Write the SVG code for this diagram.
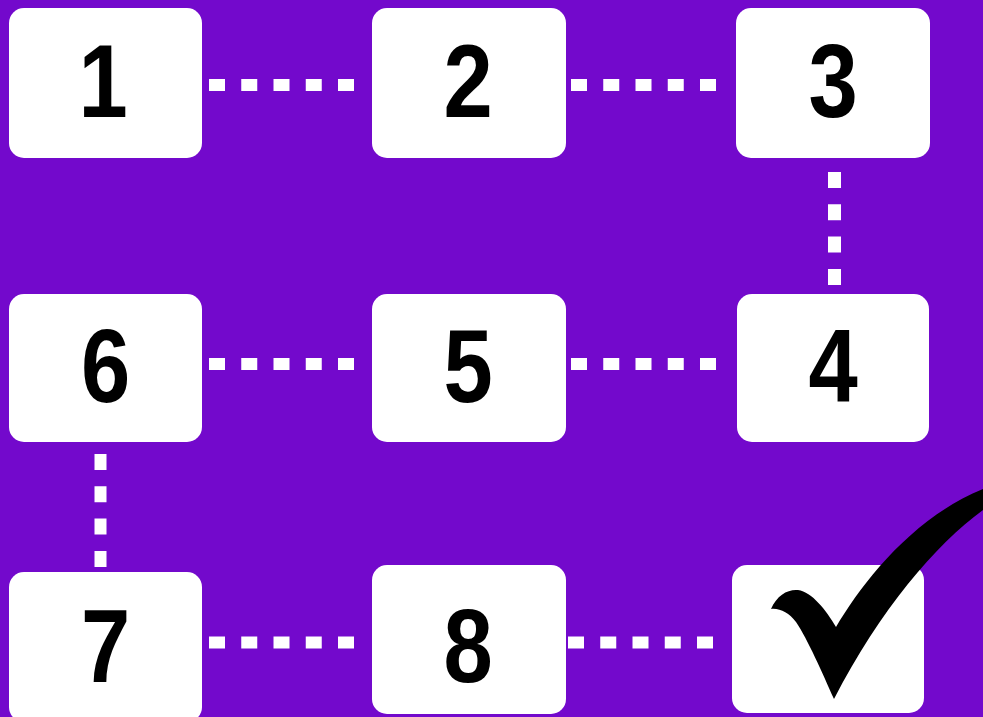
<svg xmlns="http://www.w3.org/2000/svg" width="983" height="717" viewBox="0 0 983 717">
<style>
.box{fill:#ffffff}
.num{font-family:"Liberation Sans",Arial,sans-serif;font-weight:bold;font-size:103px;fill:#000000;text-anchor:middle}
.dash{stroke:#ffffff;fill:none}
.h{stroke-width:12;stroke-dasharray:16 16.25}
.v{stroke-width:13;stroke-dasharray:16 16.3}
</style>
<rect x="0" y="0" width="983" height="717" fill="#7309CC"/>
<g id="connectors">
<line class="dash h" x1="209" y1="85" x2="354" y2="85"/>
<line class="dash h" x1="571" y1="85" x2="716" y2="85"/>
<line class="dash v" x1="834.5" y1="172" x2="834.5" y2="285"/>
<line class="dash h" x1="209" y1="364" x2="354" y2="364"/>
<line class="dash h" x1="571" y1="364" x2="716" y2="364"/>
<line class="dash v" x1="100.5" y1="454" x2="100.5" y2="567" style="stroke-width:12"/>
<line class="dash h" x1="209" y1="642.5" x2="354" y2="642.5"/>
<line class="dash h" x1="568" y1="642.5" x2="713" y2="642.5"/>
</g>
<g id="node1"><rect class="box" x="9" y="8" width="193" height="150" rx="15"/><text class="num" transform="translate(103,117) scale(0.86,1)">1</text></g>
<g id="node2"><rect class="box" x="372" y="8" width="194" height="150" rx="15"/><text class="num" transform="translate(468,117) scale(0.86,1)">2</text></g>
<g id="node3"><rect class="box" x="736" y="8" width="194" height="150" rx="15"/><text class="num" transform="translate(833,117) scale(0.86,1)">3</text></g>
<g id="node4"><rect class="box" x="737" y="294" width="192" height="148" rx="15"/><text class="num" transform="translate(833,402) scale(0.86,1)">4</text></g>
<g id="node5"><rect class="box" x="372" y="294" width="194" height="148" rx="15"/><text class="num" transform="translate(468,402) scale(0.86,1)">5</text></g>
<g id="node6"><rect class="box" x="9" y="294" width="193" height="148" rx="15"/><text class="num" transform="translate(105.5,402) scale(0.86,1)">6</text></g>
<g id="node7"><rect class="box" x="9" y="572" width="193" height="150" rx="15"/><text class="num" transform="translate(105.5,682) scale(0.86,1)">7</text></g>
<g id="node8"><rect class="box" x="372" y="565" width="194" height="149" rx="15"/><text class="num" transform="translate(468,682) scale(0.86,1)">8</text></g>
<g id="node9"><rect class="box" x="732" y="565" width="192" height="148" rx="15"/>
<path fill="#000000" d="M 771,609 C 777,595 788,589 798,590 C 812,592 826,610 836,627 C 862,583 912,518 983,489 L 983,510 C 935,545 880,610 834,699 C 822,672 808,640 796,622 C 789,613 780,608 771,609 Z"/>
</g>
</svg>
